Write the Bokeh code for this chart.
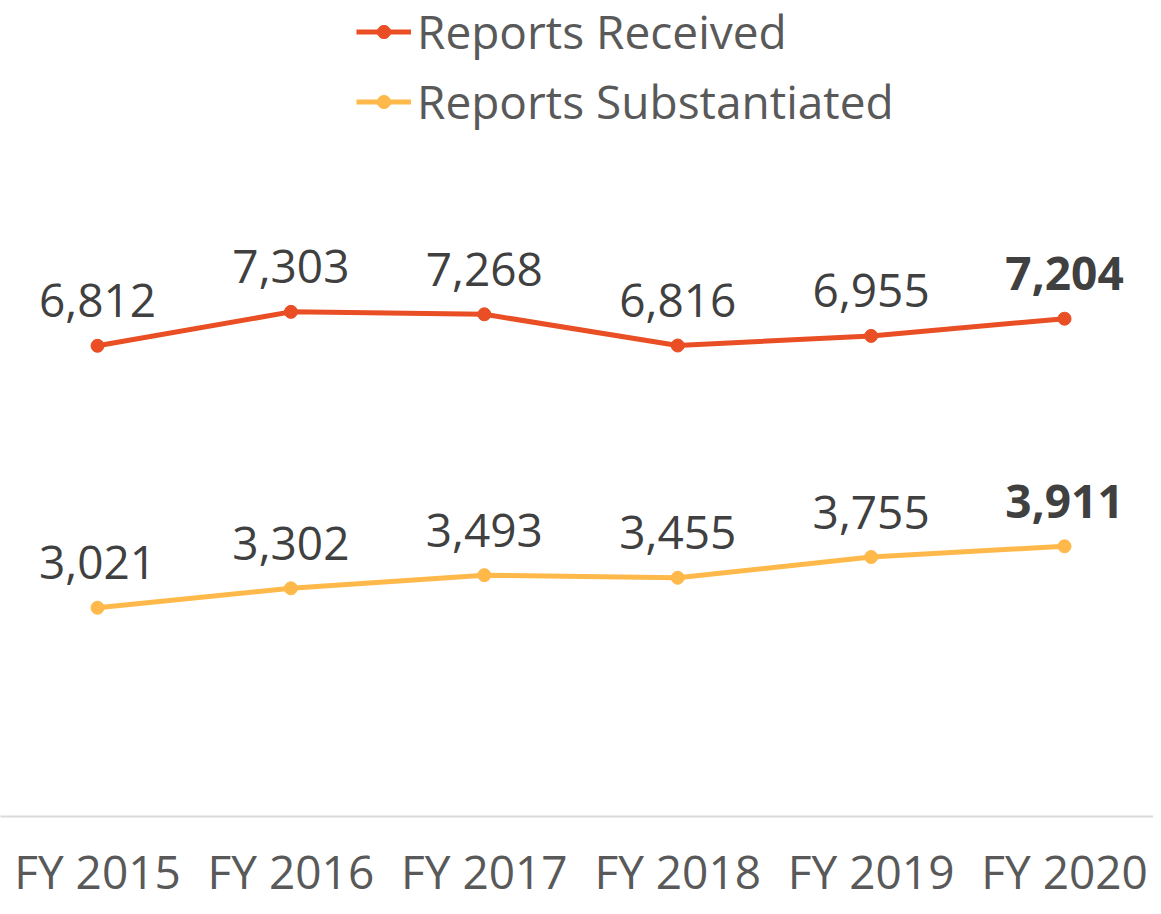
from bokeh.plotting import figure
from bokeh.models import ColumnDataSource, Legend, LegendItem, FixedTicker
from bokeh.core.properties import value
from bokeh.embed import file_html
from bokeh.resources import INLINE

years = ["FY 2015", "FY 2016", "FY 2017", "FY 2018", "FY 2019", "FY 2020"]
received = [6812, 7303, 7268, 6816, 6955, 7204]
substantiated = [3021, 3302, 3493, 3455, 3755, 3911]

RED = "#E94E24"
YEL = "#FFB94A"
FONT = "Open Sans"
FS = "46px"

idx = list(range(len(years)))
last = len(years) - 1

def src(vals):
    return ColumnDataSource(dict(
        x=idx, y=vals,
        label=[f"{v:,}" for v in vals],
        style=["bold" if i == last else "normal" for i in idx],
    ))

s_rec = src(received)
s_sub = src(substantiated)

p = figure(width=1153, height=906, output_backend="svg", toolbar_location=None,
           x_range=(-0.5016, 5.46), y_range=(0, 11809),
           min_border_left=0, min_border_right=0, min_border_top=0, min_border_bottom=90)
p.outline_line_color = None
p.grid.visible = False
p.yaxis.visible = False

r1 = p.line("x", "y", source=s_rec, line_color=RED, line_width=5)
c1 = p.scatter("x", "y", source=s_rec, size=13, fill_color=RED, line_color=RED)
r2 = p.line("x", "y", source=s_sub, line_color=YEL, line_width=5)
c2 = p.scatter("x", "y", source=s_sub, size=13, fill_color=YEL, line_color=YEL)

for s in (s_rec, s_sub):
    p.text("x", "y", text="label", source=s, text_font=value(FONT), text_font_size=FS,
           text_color="#404040", text_align="center", text_baseline="alphabetic",
           text_font_style="style", y_offset=-45)

xa = p.xaxis[0]
xa.ticker = FixedTicker(ticks=idx)
xa.major_label_overrides = {i: y for i, y in zip(idx, years)}
xa.major_tick_line_color = None
xa.minor_tick_line_color = None
xa.axis_line_color = "#D9D9D9"
xa.axis_line_width = 2
xa.major_label_text_font = FONT
xa.major_label_text_font_size = FS
xa.major_label_text_color = "#595959"
xa.major_label_standoff = 17

legend = Legend(items=[LegendItem(label="Reports Received", renderers=[r1, c1]),
                       LegendItem(label="Reports Substantiated", renderers=[r2, c2])],
                location=(356, 684), orientation="vertical",
                label_text_font=FONT, label_text_font_size=FS, label_text_color="#595959",
                glyph_width=55, glyph_height=33, label_standoff=6, spacing=8, padding=0, margin=0,
                border_line_alpha=0, background_fill_alpha=0)
p.add_layout(legend, "center")

open("out.html", "w").write(file_html(p, INLINE))
